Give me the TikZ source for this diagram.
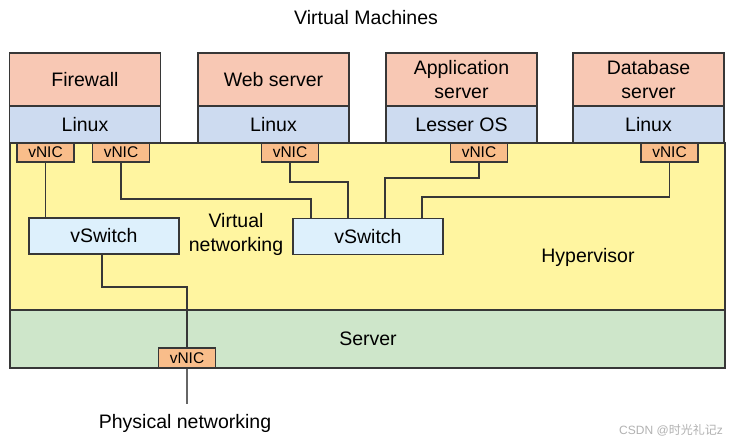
\documentclass[tikz,border=0pt]{standalone}
\usepackage{fontspec}
\setmainfont{Liberation Sans}
\newfontfamily\cjk{Noto Sans CJK SC}
\definecolor{appc}{RGB}{248,200,180}
\definecolor{osc}{RGB}{205,219,240}
\definecolor{hypc}{RGB}{255,245,160}
\definecolor{srvc}{RGB}{206,230,202}
\definecolor{nicc}{RGB}{249,189,138}
\definecolor{swc}{RGB}{221,240,252}
\definecolor{edgec}{RGB}{55,55,55}
\begin{document}
\begin{tikzpicture}[x=1pt,y=-1pt,
  box/.style={draw=edgec,line width=1.4pt,inner sep=0pt,anchor=center},
  appbox/.style={box,fill=appc,minimum width=151pt,minimum height=53pt,align=center,font=\fontsize{19.5}{24}\selectfont},
  osbox/.style={box,fill=osc,minimum width=151pt,minimum height=37pt,font=\fontsize{19.5}{24}\selectfont},
  nicbox/.style={box,fill=nicc,minimum width=57pt,minimum height=19pt,font=\fontsize{15.5}{16}\selectfont},
  swbox/.style={box,fill=swc,minimum width=150pt,minimum height=36pt,font=\fontsize{19.5}{24}\selectfont},
  wire/.style={draw=edgec,line width=1.4pt},
  lbl/.style={inner sep=0pt,align=center,font=\fontsize{19.5}{24}\selectfont}]
\useasboundingbox (0,0) rectangle (734,442);
\fill[white] (0,0) rectangle (734,442);
% layers
\node[box,fill=hypc,minimum width=715pt,minimum height=167pt] (hyp) at (367.5,226.5) {};
\node[box,fill=srvc,minimum width=715pt,minimum height=58pt] (srv) at (367.5,339) {};
% virtual machines
\node[appbox] (fw) at (85,79.5) {Firewall};
\node[osbox] (fwos) at (85,124.5) {Linux};
\node[appbox] (web) at (273.5,79.5) {Web server};
\node[osbox] (webos) at (273.5,124.5) {Linux};
\node[appbox] (app) at (461.5,79.5) {Application\\server};
\node[osbox] (appos) at (461.5,124.5) {Lesser OS};
\node[appbox] (db) at (648.5,79.5) {Database\\server};
\node[osbox] (dbos) at (648.5,124.5) {Linux};
% vNICs
\node[nicbox] (fv1) at (45.5,152.5) {vNIC};
\node[nicbox] (fv2) at (121,152.5) {vNIC};
\node[nicbox] (wv) at (290,152.5) {vNIC};
\node[nicbox] (av) at (479,152.5) {vNIC};
\node[nicbox] (dv) at (669.5,152.5) {vNIC};
% vSwitches
\node[swbox] (vs1) at (104,236) {vSwitch};
\node[swbox] (vs2) at (368,236.5) {vSwitch};
% bend points
\coordinate (b1) at (311,199);
\coordinate (b2) at (348,182);
\coordinate (b3) at (385,178);
\coordinate (b4) at (422,197);
\coordinate (b5) at (102,287);
\coordinate (pn) at (187,404);
% server vNIC
\node[nicbox,minimum height=20pt] (sv) at (187,358) {vNIC};
% wires
\draw[wire] (fv1.south) -- (fv1.south |- vs1.north);
\draw[wire] (fv2.south) |- (b1) -- (b1 |- vs2.north);
\draw[wire] (wv.south) |- (b2) -- (b2 |- vs2.north);
\draw[wire] (av.south) |- (b3) -- (b3 |- vs2.north);
\draw[wire] (dv.south) |- (b4) -- (b4 |- vs2.north);
\draw[wire] (b5 |- vs1.south) -- (b5) -| (sv.north);
\draw[wire,draw=gray!80!black] (sv.south) -- (pn);
% labels
\node[lbl] (title) at (366,18) {Virtual Machines};
\node[lbl] (vn) at (236,234) {Virtual\\networking};
\node[lbl] (hl) at (588,257) {Hypervisor};
\node[lbl] (sl) at (368,339) {Server};
\node[lbl] (pl) at (185,423) {Physical networking};
\node[inner sep=0pt,text=black!30,font=\fontsize{12}{14}\selectfont] (wm) at (671,430) {CSDN @{\cjk 时光礼记}z};
\end{tikzpicture}
\end{document}
